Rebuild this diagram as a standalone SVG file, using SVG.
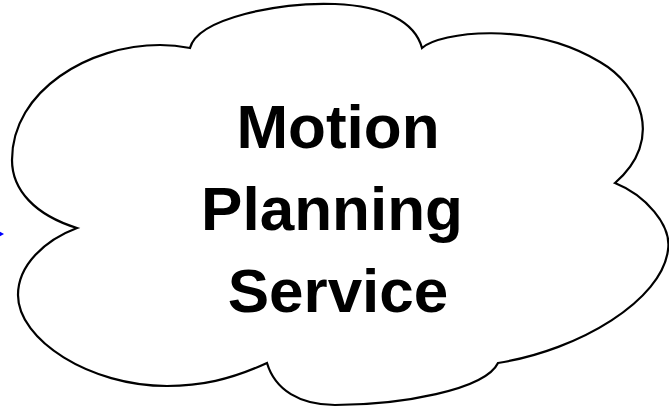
<svg xmlns="http://www.w3.org/2000/svg" width="669" height="409" viewBox="0 0 669 409">
<style>
.cloud{fill:#ffffff;stroke:#000000;stroke-width:2.2;stroke-linejoin:miter}
.lbl{font-family:"Liberation Sans",Arial,sans-serif;font-weight:bold;font-size:62px;fill:#000000;text-anchor:middle}
</style>
<rect width="669" height="409" fill="#ffffff"/>
<g id="connectors">
<polygon points="-5,229 4,234 -5,239" fill="#0000ff"/>
</g>
<g id="motion-planning-service">
<path class="cloud" d="M190,48 C198,18 280,2 335,4 C385,6 415,22 422,48 C440,32 530,20 600,62 C640,85 665,140 615,183 C645,195 672,225 668,250 C662,300 580,350 498,363 C485,390 400,405 335,405 C300,405 275,390 267,363 C230,380 200,386 167,386 C90,386 18,340 18,295 C18,265 45,240 77,228 C35,215 12,190 12,160 C12,90 90,45 160,45 C175,45 185,47 190,48 Z"/>
<text class="lbl" x="338" y="148">Motion</text>
<text class="lbl" x="332" y="230">Planning</text>
<text class="lbl" x="338" y="312">Service</text>
</g>
</svg>
